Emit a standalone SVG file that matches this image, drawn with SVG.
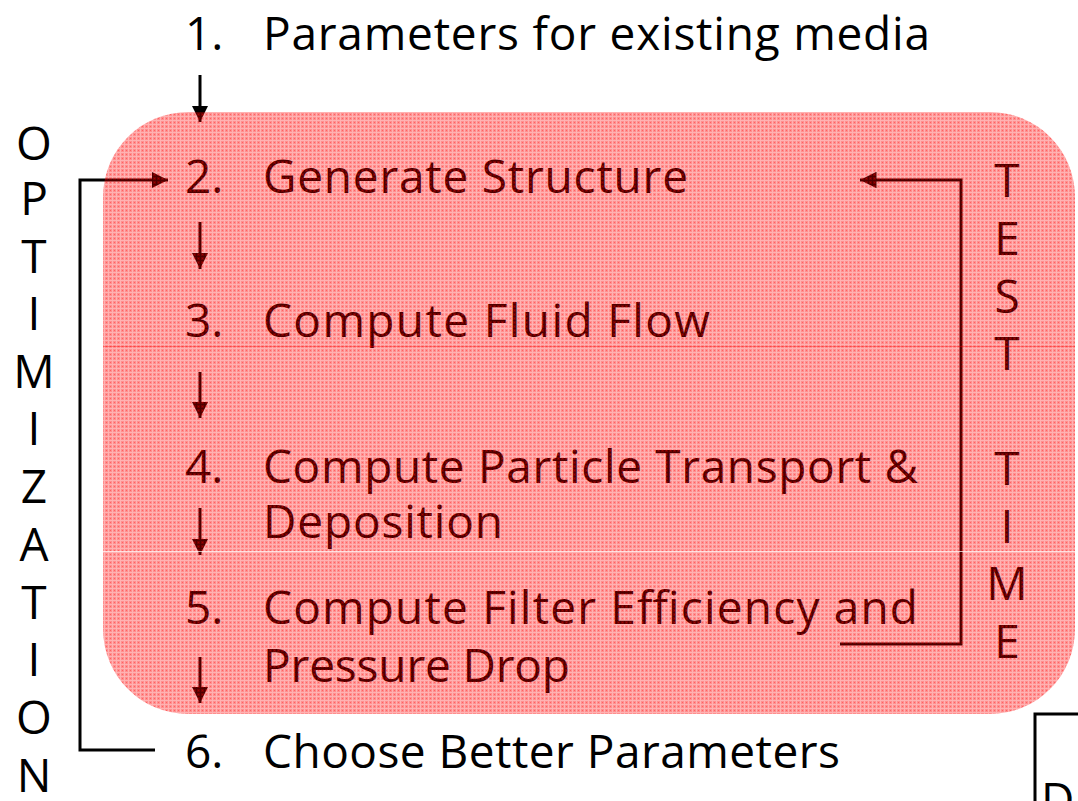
<svg xmlns="http://www.w3.org/2000/svg" width="1078" height="801" viewBox="0 0 1078 801">
  <style>
    .t { font-family: "Open Sans", "DejaVu Sans", sans-serif; font-size: 46px; fill: #000; }
    .v { font-family: "Open Sans", "DejaVu Sans", sans-serif; font-size: 46px; fill: #000; text-anchor: middle; }
    .ln { stroke: #000; stroke-width: 3; fill: none; }
  </style>
  <defs>
    <marker id="ah" viewBox="0 0 10 10" refX="10" refY="5" markerWidth="5.5" markerHeight="5.5" markerUnits="strokeWidth" orient="auto">
      <path d="M0,0 L10,5 L0,10 Z" fill="#000"/>
    </marker>
    <pattern id="grid" x="0" y="0" width="4" height="4" patternUnits="userSpaceOnUse">
      <rect x="1" y="1" width="3" height="3" fill="#ff0000" fill-opacity="0.44"/>
      <rect x="0" y="0" width="4" height="1" fill="#ff0000" fill-opacity="0.3"/>
      <rect x="0" y="1" width="1" height="3" fill="#ff0000" fill-opacity="0.3"/>
      <rect x="2" y="2" width="1" height="1" fill="#ff0000" fill-opacity="0.32"/>
    </pattern>
  </defs>
  <rect width="1078" height="801" fill="#fff"/>

  <g id="step1"><text class="t" x="185" y="50">1.</text><text class="t" x="263" y="50" textLength="667">Parameters for existing media</text></g>
  <g id="step2"><text class="t" x="185" y="193">2.</text><text class="t" x="263" y="193" textLength="425">Generate Structure</text></g>
  <g id="step3"><text class="t" x="185" y="337">3.</text><text class="t" x="263" y="337" textLength="447">Compute Fluid Flow</text></g>
  <g id="step4"><text class="t" x="185" y="483">4.</text><text class="t" x="263" y="483" textLength="655">Compute Particle Transport &amp;</text><text class="t" x="263" y="538" textLength="240">Deposition</text></g>
  <g id="step5"><text class="t" x="185" y="624">5.</text><text class="t" x="263" y="624" textLength="655">Compute Filter Efficiency and</text><text class="t" x="263" y="682" textLength="307">Pressure Drop</text></g>
  <g id="step6"><text class="t" x="185" y="768">6.</text><text class="t" x="263" y="768" textLength="577">Choose Better Parameters</text></g>

  <g id="optimization-label">
    <text class="v" x="34" y="160">O</text>
    <text class="v" x="34" y="215">P</text>
    <text class="v" x="34" y="273">T</text>
    <text class="v" x="34" y="330">I</text>
    <text class="v" x="34" y="388">M</text>
    <text class="v" x="34" y="445">I</text>
    <text class="v" x="34" y="503">Z</text>
    <text class="v" x="34" y="561">A</text>
    <text class="v" x="34" y="619">T</text>
    <text class="v" x="34" y="676">I</text>
    <text class="v" x="34" y="734">O</text>
    <text class="v" x="34" y="792">N</text>
  </g>

  <g id="test-time-label">
    <text class="v" x="1007" y="197">T</text>
    <text class="v" x="1007" y="255">E</text>
    <text class="v" x="1007" y="313">S</text>
    <text class="v" x="1007" y="370">T</text>
    <text class="v" x="1007" y="485">T</text>
    <text class="v" x="1007" y="543">I</text>
    <text class="v" x="1007" y="600">M</text>
    <text class="v" x="1007" y="658">E</text>
  </g>

  <g id="connectors">
    <line class="ln" x1="200" y1="75" x2="200" y2="122" marker-end="url(#ah)"/>
    <line class="ln" x1="200" y1="222" x2="200" y2="269" marker-end="url(#ah)"/>
    <line class="ln" x1="200" y1="372" x2="200" y2="418" marker-end="url(#ah)"/>
    <line class="ln" x1="200" y1="508" x2="200" y2="555" marker-end="url(#ah)"/>
    <line class="ln" x1="200" y1="657" x2="200" y2="703" marker-end="url(#ah)"/>
    <polyline class="ln" points="155,750 80,750 80,180 168,180" marker-end="url(#ah)"/>
    <polyline class="ln" points="840,644 961,644 961,180 860,180" marker-end="url(#ah)"/>
  </g>

  <g id="corner-box">
    <path class="ln" d="M1078,714 L1035,714 L1035,801"/>
    <text class="t" x="1041" y="816">D</text>
  </g>

  <g id="loop-region">
    <rect x="103" y="112" width="972" height="602" rx="85" ry="85" fill="url(#grid)"/>
    <line x1="103" y1="346.5" x2="1075" y2="346.5" stroke="#ff0000" stroke-opacity="0.35" stroke-width="1"/>
    <line x1="103" y1="551.5" x2="1075" y2="551.5" stroke="#ffffff" stroke-opacity="0.7" stroke-width="1"/>
  </g>
</svg>
